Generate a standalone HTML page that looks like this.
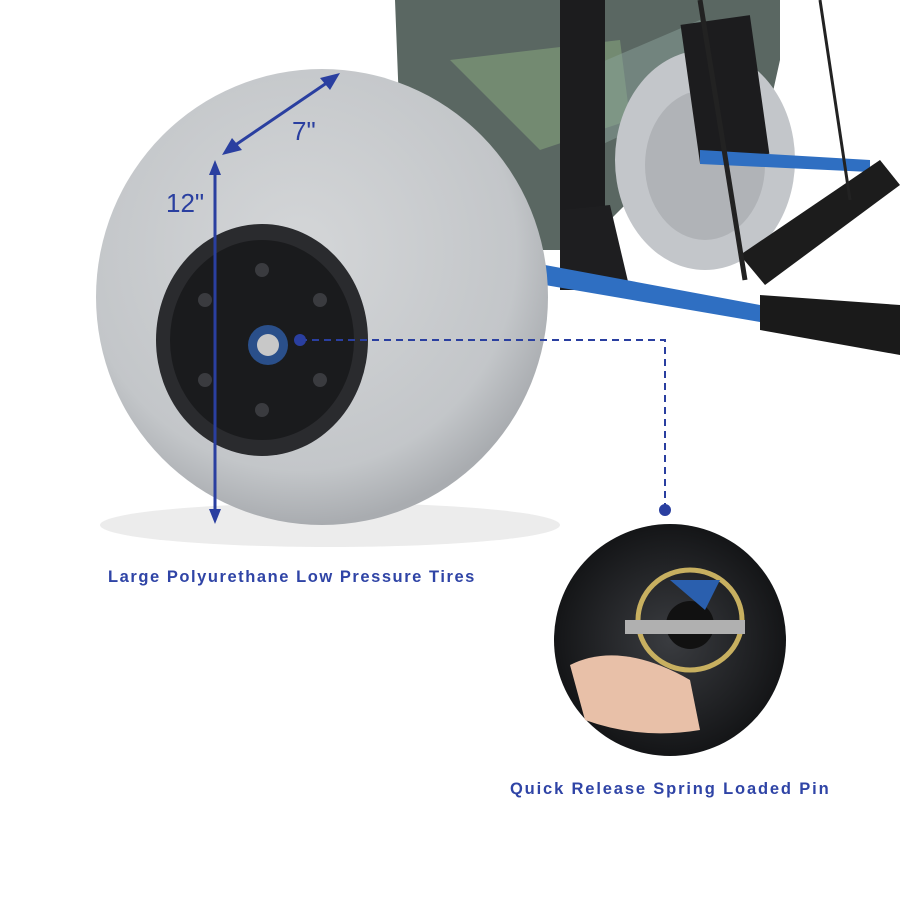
<!DOCTYPE html>
<html><head><style>
html,body{margin:0;padding:0;background:#fff;}
.wrap{position:relative;width:900px;height:900px;overflow:hidden;background:#fff;font-family:"Liberation Sans",sans-serif;}
.lbl{position:absolute;color:#2f44a6;font-weight:bold;font-size:16.5px;letter-spacing:1.6px;white-space:nowrap;}
</style></head><body><div class="wrap">
<svg width="900" height="900" style="position:absolute;left:0;top:0">
<defs>
<radialGradient id="tire" cx="0.45" cy="0.4" r="0.6">
<stop offset="0" stop-color="#d4d6d8"/><stop offset="0.8" stop-color="#c3c6c9"/><stop offset="1" stop-color="#a9acb0"/>
</radialGradient>
<radialGradient id="inset" cx="0.5" cy="0.5" r="0.5">
<stop offset="0" stop-color="#3a3c40"/><stop offset="1" stop-color="#141517"/>
</radialGradient>
</defs>
<ellipse cx="330" cy="525" rx="230" ry="22" fill="#ececec"/>
<path d="M395 0 L780 0 L780 60 L760 150 L640 190 L580 250 L540 250 L520 210 L400 130 Z" fill="#5a6762"/>
<path d="M450 60 L620 40 L630 120 L540 150 Z" fill="#7d9a78" opacity="0.7"/>
<path d="M560 80 L700 20 L720 90 L590 150 Z" fill="#8aa29a" opacity="0.5"/>
<ellipse cx="705" cy="160" rx="90" ry="110" fill="#c3c6ca"/>
<ellipse cx="705" cy="165" rx="60" ry="75" fill="#b0b3b7"/>
<rect x="560" y="0" width="45" height="220" fill="#1c1c1e"/>
<rect x="690" y="20" width="70" height="140" fill="#1c1c1e" transform="rotate(-8 720 90)"/>
<path d="M560 210 L610 205 L630 290 L560 290 Z" fill="#1e1e20"/>
<path d="M545 265 L760 305 L760 322 L545 285 Z" fill="#2f6fc2"/>
<path d="M700 150 L870 160 L870 172 L700 164 Z" fill="#2f6fc2"/>
<path d="M740 255 L880 160 L900 185 L765 285 Z" fill="#1c1c1c"/>
<path d="M760 295 L900 305 L900 355 L760 330 Z" fill="#1a1a1a"/>
<line x1="820" y1="0" x2="850" y2="200" stroke="#222" stroke-width="3"/>
<line x1="700" y1="0" x2="745" y2="280" stroke="#222" stroke-width="5"/>
<ellipse cx="322" cy="297" rx="226" ry="228" fill="url(#tire)"/>
<ellipse cx="262" cy="340" rx="106" ry="116" fill="#2a2b2e"/>
<ellipse cx="262" cy="340" rx="92" ry="100" fill="#1a1b1d"/>
<g fill="#3a3b3f">
<circle cx="262" cy="270" r="7"/><circle cx="320" cy="300" r="7"/><circle cx="320" cy="380" r="7"/>
<circle cx="262" cy="410" r="7"/><circle cx="205" cy="380" r="7"/><circle cx="205" cy="300" r="7"/>
</g>
<circle cx="268" cy="345" r="20" fill="#2a4f8a"/>
<circle cx="268" cy="345" r="11" fill="#c8c8c8"/>
<g stroke="#2a3fa0" stroke-width="3" fill="#2a3fa0">
<line x1="228" y1="150" x2="334" y2="78"/>
<line x1="215" y1="170" x2="215" y2="515"/>
</g>
<polygon points="222,155 242,150 232,138" fill="#2a3fa0"/>
<polygon points="340,73 320,78 330,90" fill="#2a3fa0"/>
<polygon points="215,160 209,175 221,175" fill="#2a3fa0"/>
<polygon points="215,524 209,509 221,509" fill="#2a3fa0"/>
<text x="292" y="140" font-family="Liberation Sans" font-size="26" fill="#2a3fa0">7"</text>
<text x="166" y="212" font-family="Liberation Sans" font-size="26" fill="#2a3fa0">12"</text>
<circle cx="300" cy="340" r="6" fill="#2a3fa0"/>
<path d="M300 340 H665 V505" stroke="#2a3fa0" stroke-width="2" stroke-dasharray="7 5" fill="none"/>
<circle cx="665" cy="510" r="6" fill="#2a3fa0"/>
<circle cx="670" cy="640" r="116" fill="url(#inset)"/>
<ellipse cx="690" cy="620" rx="52" ry="50" fill="none" stroke="#c8b060" stroke-width="5"/>
<circle cx="690" cy="625" r="24" fill="#111"/>
<path d="M670 580 L720 580 L705 610 Z" fill="#2a5fae"/>
<rect x="625" y="620" width="120" height="14" fill="#b0b0b0"/>
<path d="M570 665 Q620 640 690 680 L700 730 Q640 740 585 720 Z" fill="#e8c0a8"/>
</svg>
<div class="lbl" style="left:108px;top:568px;letter-spacing:1.55px">Large Polyurethane Low Pressure Tires</div>
<div class="lbl" style="left:510px;top:780px;letter-spacing:1.85px">Quick Release Spring Loaded Pin</div>
</div></body></html>
